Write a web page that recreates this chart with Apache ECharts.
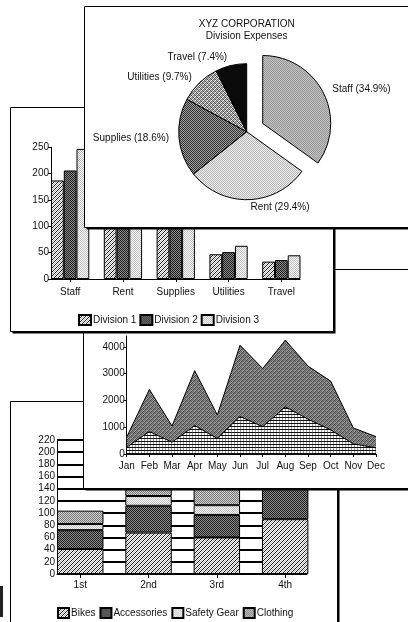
<!DOCTYPE html>
<html><head><meta charset="utf-8">
<script src="https://cdn.jsdelivr.net/npm/echarts@6/dist/echarts.min.js"></script>
<style>html,body{margin:0;padding:0;background:#fff;overflow:hidden}#c{width:408px;height:622px}</style>
</head><body><div id="c"></div>
<script>
// ---- Pie: XYZ Corporation division expenses ----
const pieCategories = ['Staff', 'Rent', 'Supplies', 'Utilities', 'Travel'];
const pieValues = [34.9, 29.4, 18.6, 9.7, 7.4];
// ---- Grouped bars by division ----
const divCategories = ['Staff', 'Rent', 'Supplies', 'Utilities', 'Travel'];
const division1 = [187, 172, 108, 47, 33];
const division2 = [206, 180, 114, 51, 36];
const division3 = [247, 186, 121, 63, 45];
const divYTicks = [0, 50, 100, 150, 200, 250];
// ---- Monthly area chart ----
const months = ['Jan','Feb','Mar','Apr','May','Jun','Jul','Aug','Sep','Oct','Nov','Dec'];
const areaLower = [250, 840, 440, 1060, 580, 1400, 1020, 1760, 1300, 900, 380, 230];
const areaUpper = [630, 2410, 1045, 3110, 1455, 4060, 3190, 4250, 3280, 2720, 970, 650];
const areaYTicks = [0, 1000, 2000, 3000, 4000];
// ---- Quarterly stacked bars ----
const quarters = ['1st', '2nd', '3rd', '4th'];
const bikes = [41, 68, 60, 90];
const accessories = [31, 44, 37, 50];
const safetyGear = [10, 16, 16, 18];
const clothing = [22, 25, 30, 25];
const stackYTicks = [0, 20, 40, 60, 80, 100, 120, 140, 160, 180, 200, 220];

const FONT = "'Liberation Sans','Arimo',sans-serif";
function pattern(w, h, draw) {
  const c = document.createElement('canvas'); c.width = w; c.height = h;
  const g = c.getContext('2d'); draw(g); return { image: c, repeat: 'repeat' };
}
function px(g, col, pts) { g.fillStyle = col; pts.forEach(p => g.fillRect(p[0], p[1], 1, 1)); }
function checker(a, b) { return pattern(2, 2, g => { px(g, a, [[0,0],[1,1]]); px(g, b, [[1,0],[0,1]]); }); }
function matrix(m) {
  return pattern(m[0].length, m.length, g => m.forEach((row, y) => row.forEach((v, x) => px(g, 'rgb(' + v + ',' + v + ',' + v + ')', [[x, y]]))));
}
const pHatch = pattern(4, 4, g => { g.fillStyle = '#fff'; g.fillRect(0,0,4,4); px(g, '#1a1a1a', [[3,0],[2,1],[1,2],[0,3]]); px(g, '#b4b4b4', [[1,0],[0,1],[3,2],[2,3]]); });
const pDark = checker('#1e1e1e', '#8c8c8c');
const pLight = checker('#bdbdbd', '#ffffff');
const pMid = checker('#767676', '#d2d2d2');
const pStaff = checker('#858585', '#d6d6d6');
const pRent = checker('#b2b2b2', '#f2f2f2');
const pSupplies = checker('#2e2e2e', '#a2a2a2');
const pUtil = matrix([[90,200,140,255],[170,60,230,120],[130,250,80,190],[220,110,170,70]]);
const pAreaTop = matrix([[100,150,70,130],[160,65,135,90],[80,140,110,165],[135,95,170,70]]);
const pLines = pattern(3, 3, g => { g.fillStyle = '#fff'; g.fillRect(0,0,3,3); g.fillStyle = '#111'; g.fillRect(0,0,3,1); px(g, '#9a9a9a', [[0,1],[0,2]]); });
const pBlack = '#0a0a0a';

const txt = (size) => ({ fontFamily: FONT, fontSize: size, color: '#111' });
const black = { color: '#000', width: 1 };
const barStyle = (p) => ({ color: p, borderColor: '#000', borderWidth: 1 });
const plain = v => String(v);
function panel(z, x, y, w, h) {
  return [
    { type: 'rect', z: z - 0.5, shape: { x: x + 2, y: y + 2, width: w, height: h }, style: { fill: '#000' } },
    { type: 'rect', z: z, shape: { x: x, y: y, width: w, height: h }, style: { fill: '#fff', stroke: '#000', lineWidth: 1 } }
  ];
}

const chart = echarts.init(document.getElementById('c'), null, { renderer: 'canvas' });
chart.setOption({
  animation: false,
  backgroundColor: '#fff',
  graphic: { elements: [].concat(
    [{ type: 'rect', z: 0, shape: { x: 0, y: 586, width: 3, height: 31 }, style: { fill: '#222' } }],
    panel(1, 10.5, 401.5, 327, 300),
    panel(10, 83.5, 269.5, 340, 219),
    panel(20, 10.5, 107.5, 323, 224),
    panel(30, 84.5, 6.5, 340, 221),
    [
      { type: 'text', z: 32, x: 246.7, y: 24, style: { text: 'XYZ CORPORATION', fontFamily: FONT, fontSize: 10, fill: '#111', align: 'center', verticalAlign: 'middle' } },
      { type: 'text', z: 32, x: 246.7, y: 36, style: { text: 'Division Expenses', fontFamily: FONT, fontSize: 10, fill: '#111', align: 'center', verticalAlign: 'middle' } }
    ]) },
  legend: [
    { data: ['Bikes', 'Accessories', 'Safety Gear', 'Clothing'], left: 57, top: 607, padding: 0, itemWidth: 11, itemHeight: 10, itemGap: 4, icon: 'rect', z: 5, textStyle: Object.assign(txt(10), { padding: [0, 0, 0, -3] }) },
    { data: ['Division 1', 'Division 2', 'Division 3'], left: 78, top: 314, padding: 0, itemWidth: 12, itemHeight: 10, itemGap: 3, icon: 'rect', z: 24, textStyle: Object.assign(txt(10), { padding: [0, 0, 0, -3] }) }
  ],
  grid: [
    { left: 57, top: 440, width: 250, height: 134 },
    { left: 46.1, top: 440, width: 273.2, height: 134 },
    { left: 126.7, top: 336.1, width: 249.3, height: 117.9 },
    { left: 51, top: 147.3, width: 249, height: 131.7 },
    { left: 43.75, top: 147.3, width: 264, height: 131.7 }
  ],
  xAxis: [
    { gridIndex: 0, type: 'value', min: 0, max: 1, z: 4, axisLine: { show: true, lineStyle: black }, axisTick: { show: false }, axisLabel: { show: false }, splitLine: { show: false } },
    { gridIndex: 1, type: 'category', data: quarters, z: 4, axisLine: { show: false }, axisTick: { show: true, alignWithLabel: true, length: 4, lineStyle: black }, axisLabel: Object.assign(txt(10), { margin: 6 }) },
    { gridIndex: 2, type: 'category', data: months, boundaryGap: false, z: 13, axisLine: { show: true, lineStyle: black }, axisTick: { show: true, length: 3, lineStyle: black }, axisLabel: Object.assign(txt(10), { margin: 7, interval: 0 }) },
    { gridIndex: 3, type: 'value', min: 0, max: 1, z: 23, axisLine: { show: true, lineStyle: black }, axisTick: { show: false }, axisLabel: { show: false }, splitLine: { show: false } },
    { gridIndex: 4, type: 'category', data: divCategories, z: 23, axisLine: { show: false }, axisTick: { show: true, alignWithLabel: true, length: 3, lineStyle: black }, axisLabel: Object.assign(txt(10), { margin: 8, interval: 0 }) }
  ],
  yAxis: [
    { gridIndex: 0, type: 'value', min: 0, max: 220, interval: 20, z: 2, axisLine: { show: true, lineStyle: black }, axisTick: { show: false }, axisLabel: Object.assign(txt(10), { margin: 2, formatter: plain, customValues: stackYTicks }), splitLine: { show: true, lineStyle: { color: '#000', width: 2 } } },
    { gridIndex: 1, type: 'value', min: 0, max: 220, show: false },
    { gridIndex: 2, type: 'value', min: 0, max: 4400, interval: 1000, z: 13, axisLine: { show: true, lineStyle: black }, axisTick: { show: true, length: 3, lineStyle: black, customValues: areaYTicks }, axisLabel: Object.assign(txt(10), { margin: 2, formatter: plain, customValues: areaYTicks }), splitLine: { show: false } },
    { gridIndex: 3, type: 'value', min: 0, max: 250, interval: 50, z: 23, axisLine: { show: true, lineStyle: black }, axisTick: { show: true, length: 3, lineStyle: black }, axisLabel: Object.assign(txt(10), { margin: 2, formatter: plain, customValues: divYTicks }), splitLine: { show: false } },
    { gridIndex: 4, type: 'value', min: 0, max: 250, show: false }
  ],
  series: [
    { name: 'Bikes', type: 'bar', xAxisIndex: 1, yAxisIndex: 1, stack: 'q', barCategoryGap: '32%', z: 3, data: bikes, itemStyle: barStyle(pHatch) },
    { name: 'Accessories', type: 'bar', xAxisIndex: 1, yAxisIndex: 1, stack: 'q', z: 3, data: accessories, itemStyle: barStyle(pDark) },
    { name: 'Safety Gear', type: 'bar', xAxisIndex: 1, yAxisIndex: 1, stack: 'q', z: 3, data: safetyGear, itemStyle: barStyle(pLight) },
    { name: 'Clothing', type: 'bar', xAxisIndex: 1, yAxisIndex: 1, stack: 'q', z: 3, data: clothing, itemStyle: barStyle(pMid) },

    { name: 'Total', type: 'line', xAxisIndex: 2, yAxisIndex: 2, z: 11, data: areaUpper, symbol: 'none', lineStyle: black, areaStyle: { color: pAreaTop, opacity: 1 } },
    { name: 'Base', type: 'line', xAxisIndex: 2, yAxisIndex: 2, z: 12, data: areaLower, symbol: 'none', lineStyle: black, areaStyle: { color: pLines, opacity: 1 } },

    { name: 'Division 1', type: 'bar', xAxisIndex: 4, yAxisIndex: 4, barGap: '0%', barCategoryGap: '27.5%', z: 22, data: division1, itemStyle: barStyle(pHatch) },
    { name: 'Division 2', type: 'bar', xAxisIndex: 4, yAxisIndex: 4, barGap: '0%', z: 22, data: division2, itemStyle: barStyle(pDark) },
    { name: 'Division 3', type: 'bar', xAxisIndex: 4, yAxisIndex: 4, barGap: '0%', z: 22, data: division3, itemStyle: barStyle(pLight) },

    { name: 'Expenses', type: 'pie', z: 31, center: [246.7, 131.7], radius: 68, startAngle: 90, clockwise: true,
      selectedMode: 'single', selectedOffset: 18, avoidLabelOverlap: false, percentPrecision: 1,
      itemStyle: { borderColor: '#000', borderWidth: 1 },
      label: Object.assign(txt(10), { show: true, position: 'outside', formatter: '{b} ({d}%)', distanceToLabelLine: 2 }),
      labelLine: { show: false, length: 8, length2: 0 },
      emphasis: { disabled: true },
      data: pieCategories.map((n, i) => ({ name: n, value: pieValues[i], selected: i === 0,
        itemStyle: { color: [pStaff, pRent, pSupplies, pUtil, pBlack][i] } })) }
  ]
});
</script></body></html>
